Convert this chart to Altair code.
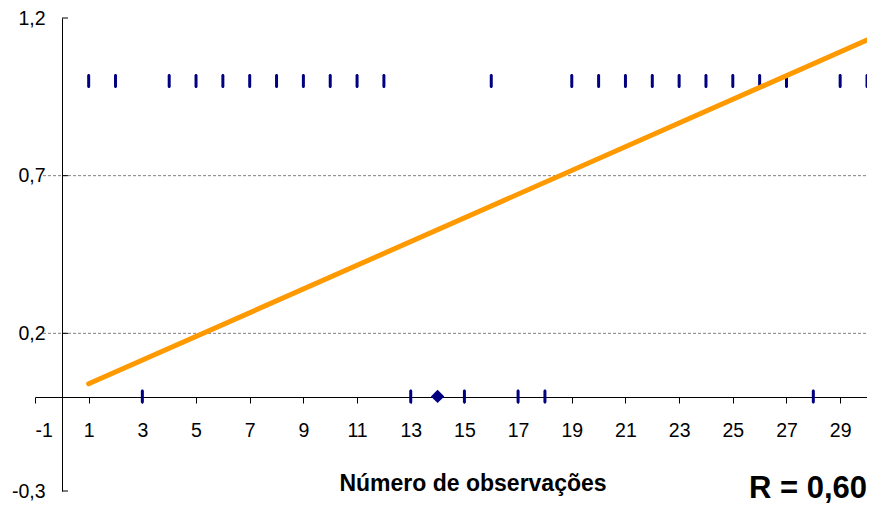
import altair as alt
import pandas as pd

# ---- data ----
obs_x = [1, 2, 3, 4, 5, 6, 7, 8, 9, 10, 11, 12, 13, 15, 16, 17, 18, 19, 20,
         21, 22, 23, 24, 25, 26, 27, 28, 29, 30]
obs_y = [1, 1, 0, 1, 1, 1, 1, 1, 1, 1, 1, 1, 0, 0, 1, 0, 0, 1, 1,
         1, 1, 1, 1, 1, 1, 1, 0, 1, 1]
highlight_x = [14]
highlight_y = [0]
trend_x = [1, 30]
trend_y = [0.04, 1.13]
y_tick_values = [-0.3, 0.2, 0.7, 1.2]
grid_values = [0.2, 0.7]
x_tick_values = [-1, 1, 3, 5, 7, 9, 11, 13, 15, 17, 19, 21, 23, 25, 27, 29]
x_title = "Número de observações"
r_label = "R = 0,60"

FONT = "Liberation Sans"
W, H = 832, 473

obs = pd.DataFrame({"x": obs_x, "y": obs_y})
hl = pd.DataFrame({"x": highlight_x, "y": highlight_y})
trend = pd.DataFrame({"x": trend_x, "y": trend_y})
grid = pd.DataFrame({"y": grid_values})
ystubs = pd.DataFrame({"y": y_tick_values})

xs = alt.Scale(domain=[-1, 30], nice=False, zero=False)
ys = alt.Scale(domain=[-0.3, 1.2], nice=False, zero=False)

x_axis = alt.Axis(values=x_tick_values, orient="bottom", offset=-94, grid=False,
                  domainColor="black", domainWidth=1, tickColor="black", tickSize=6,
                  labelFont=FONT, labelFontSize=19.5, labelColor="black", labelPadding=18,
                  labelExpr="(datum.value < 0 ? '-' : '') + format(abs(datum.value), 'd')",
                  title=None)
y_axis = alt.Axis(values=y_tick_values, orient="left", offset=-27, grid=False,
                  domainColor="black", domainWidth=1, ticks=False,
                  labelFont=FONT, labelFontSize=19.5, labelColor="black", labelPadding=17,
                  labelExpr="(datum.value < 0 ? '-' : '') + replace(format(abs(datum.value), '.1f'), '.', ',')",
                  title=None)

X = alt.X("x:Q", scale=xs, axis=x_axis)
Y = alt.Y("y:Q", scale=ys, axis=y_axis)

gridlines = alt.Chart(grid).mark_rule(color="#808080", strokeWidth=1, strokeDash=[3, 2]).encode(
    y=Y, x=alt.value(8), x2=alt.value(W),
)

stubs = alt.Chart(ystubs).mark_rule(color="black", strokeWidth=1).encode(
    y=Y, x=alt.value(27), x2=alt.value(33),
)

ticks = alt.Chart(obs).mark_tick(orient="vertical", size=14, thickness=3,
                                 color="#000080", opacity=1, cornerRadius=1.5).encode(
    x=X, y=Y,
)

line = alt.Chart(trend).mark_line(color="#FF9900", strokeWidth=5, strokeCap="round").encode(
    x=X, y=Y,
)

diamond = alt.Chart(hl).mark_point(shape="diamond", filled=True, size=180,
                                   color="#000080", opacity=1).encode(
    x=X, y=Y,
)

title_txt = alt.Chart(pd.DataFrame({"t": [x_title]})).mark_text(
    font=FONT, fontSize=23, fontWeight="bold", color="black",
    align="center", baseline="alphabetic").encode(
    text="t:N", x=alt.value(438), y=alt.value(473))

r_txt = alt.Chart(pd.DataFrame({"t": [r_label]})).mark_text(
    font=FONT, fontSize=31, fontWeight="bold", color="black",
    align="right", baseline="alphabetic").encode(
    text="t:N", x=alt.value(832), y=alt.value(480))

chart = alt.layer(gridlines, stubs, ticks, line, diamond, title_txt, r_txt).properties(
    width=W, height=H,
    autosize=alt.AutoSizeParams(type="none"),
    padding={"left": 27, "top": 10, "right": 0, "bottom": 13},
    background="white",
).configure_view(stroke=None)

chart.save("out.html", embed_options={"renderer": "svg", "actions": False})
